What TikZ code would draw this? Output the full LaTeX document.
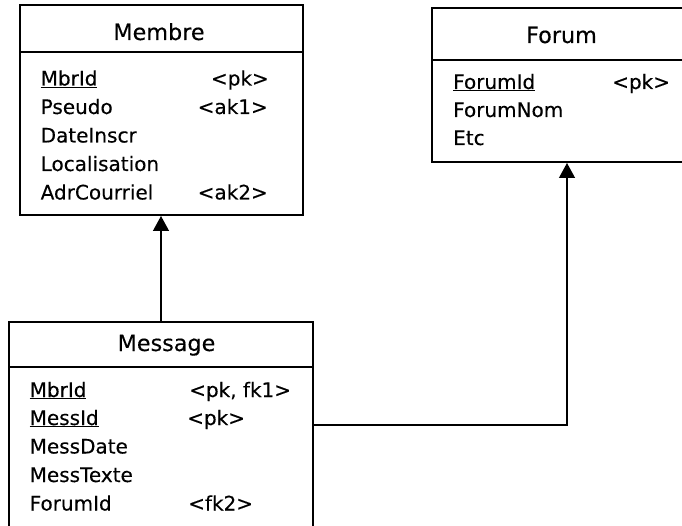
\documentclass[tikz,border=0pt]{standalone}
\usepackage{fontspec}
\setmainfont{DejaVu Sans}
\newfontfamily\erfont[FakeBold=0.3]{DejaVu Sans}
\usetikzlibrary{arrows.meta}

\begin{document}
\begin{tikzpicture}[x=1pt,y=-1pt,
    entity/.style={draw,line width=2pt,inner sep=0pt,rectangle},
    title/.style={anchor=base,inner sep=0pt,font=\erfont\fontsize{22.3}{26}\selectfont},
    attr/.style={anchor=base west,inner sep=0pt,font=\erfont\fontsize{20}{24}\selectfont},
    keyr/.style={anchor=base east,inner sep=0pt,font=\erfont\fontsize{20}{24}\selectfont},
    link/.style={line width=1.3pt,-{Triangle[length=15pt,width=16pt]}}]
    \useasboundingbox (0,0) rectangle (682,526);

    % Membre
    \node[entity,minimum width=283pt,minimum height=210pt] (membre) at (161.5,110) {};
    \draw[line width=2pt] (membre.west |- 0,52) -- (membre.east |- 0,52);
    \node[title] (mbrTitle) at (159,40) {Membre};
    \node[attr] (mbrId) at (40.5,85.5) {\underline{MbrId}};
    \node[attr] (mbrPseudo) at (40.5,114) {Pseudo};
    \node[attr] (mbrDate) at (40.5,142.5) {DateInscr};
    \node[attr] (mbrLoc) at (40.5,171) {Localisation};
    \node[attr] (mbrAdr) at (40.5,199.5) {AdrCourriel};
    \node[keyr] (mbrKeyA) at (269,85.5) {<pk>};
    \node[keyr] (mbrKeyB) at (268,114) {<ak1>};
    \node[keyr] (mbrKeyC) at (268,199.5) {<ak2>};

    % Forum
    \node[entity,minimum width=270pt,minimum height=154pt] (forum) at (567,85) {};
    \draw[line width=2pt] (forum.west |- 0,60) -- (forum.east |- 0,60);
    \node[title] (frmTitle) at (561.5,43) {Forum};
    \node[attr] (frmId) at (453,89) {\underline{ForumId}};
    \node[attr] (frmNom) at (453,117) {ForumNom};
    \node[attr] (frmEtc) at (453,145) {Etc};
    \node[attr] (frmKey) at (612,89) {<pk>};

    % Message
    \node[entity,minimum width=304pt,minimum height=206pt] (message) at (161,425) {};
    \draw[line width=2pt] (message.west |- 0,367) -- (message.east |- 0,367);
    \node[title] (msgTitle) at (166.5,351) {Message};
    \node[attr] (msgMbr) at (29.5,397) {\underline{MbrId}};
    \node[attr] (msgId) at (29.5,425) {\underline{MessId}};
    \node[attr] (msgDate) at (29.5,453.5) {MessDate};
    \node[attr] (msgTexte) at (29.5,482) {MessTexte};
    \node[attr] (msgForum) at (29.5,510.5) {ForumId};
    \node[attr] (msgKeyA) at (189,397) {<pk, fk1>};
    \node[attr] (msgKeyB) at (187,425) {<pk>};
    \node[attr] (msgKeyC) at (188,510.5) {<fk2>};

    % links
    \draw[link] (message.north) -- (message.north |- membre.south);
    \draw[link] (message.east) -| (forum.south);
\end{tikzpicture}
\end{document}
